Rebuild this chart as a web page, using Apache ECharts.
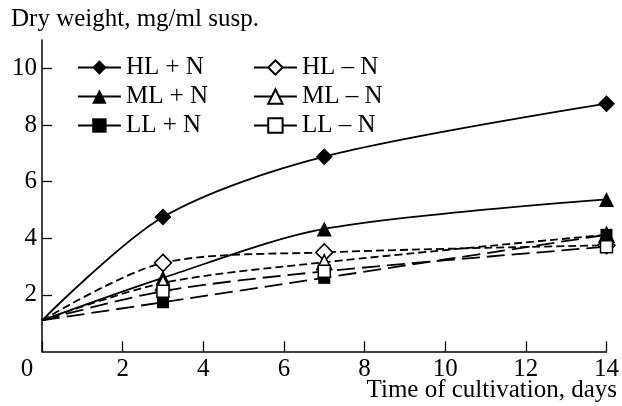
<!DOCTYPE html>
<html><head><meta charset="utf-8">
<script src="https://cdn.jsdelivr.net/npm/echarts@6/dist/echarts.min.js"></script>
<style>html,body{margin:0;padding:0;background:#fff}#c{width:622px;height:406px}</style>
</head><body><div id="c"></div>
<script>
var days = [0, 3, 7, 14];
var hlPlusN  = [1.1, 4.75, 6.88, 8.75];
var mlPlusN  = [1.1, 2.6, 4.33, 5.37];
var llPlusN  = [1.1, 1.74, 2.6, 4.12];
var hlMinusN = [1.1, 3.13, 3.5, 3.75];
var mlMinusN = [1.1, 2.42, 3.15, 4.12];
var llMinusN = [1.1, 2.13, 2.83, 3.7];
var xTicks = [0, 2, 4, 6, 8, 10, 12, 14];
var yTicks = [0, 2, 4, 6, 8, 10];
var names = ['HL + N', 'ML + N', 'LL + N', 'HL – N', 'ML – N', 'LL – N'];

var FONT = '"Liberation Serif", "Times New Roman", serif';
var FS = 25;
function pts(vals){ return days.map(function(d,i){ return {value:[d, vals[i]], symbol: i===0 ? 'none' : undefined}; }); }

function mk(name, vals, symbol, size, filled, dash){
  return {
    name: name, type: 'line', data: pts(vals), smooth: 0.3,
    symbol: symbol, symbolSize: size,
    itemStyle: {color: filled ? '#000' : '#fff', borderColor: '#000', borderWidth: filled ? 0 : 1.5, opacity: 1},
    lineStyle: {color: '#000', width: 1.8, type: dash},
    emphasis: {disabled: true}, animation: false
  };
}

var series = [
  mk(names[0], hlPlusN, 'diamond', 17, true, 'solid'),
  mk(names[1], mlPlusN, 'triangle', 15, true, 'solid'),
  mk(names[3], hlMinusN, 'diamond', 17, false, [8, 4]),
  mk(names[4], mlMinusN, 'triangle', 15, false, [8, 4]),
  mk(names[2], llPlusN, 'rect', 12, true, [18, 7]),
  mk(names[5], llMinusN, 'rect', 12, false, [18, 7])
];

function legend(left, data){
  return {
    left: left, top: 50, orient: 'vertical', data: data,
    itemWidth: 43, itemHeight: 18, itemGap: 4,
    lineStyle: {type: 'solid', width: 1.8, color: '#000'},
    textStyle: {fontFamily: FONT, fontSize: FS, color: '#000', lineHeight: 24.5},
    selectedMode: false
  };
}

var chart = echarts.init(document.getElementById('c'), null, {renderer: 'canvas'});
chart.setOption({
  animation: false,
  backgroundColor: '#fff',
  title: [
    {text: 'Dry weight, mg/ml susp.', left: 11, top: 7, padding: 0,
     textStyle: {fontFamily: FONT, fontSize: FS, fontWeight: 'normal', color: '#000'}},
    {text: 'Time of cultivation, days', right: 5, bottom: 3, padding: 0,
     textStyle: {fontFamily: FONT, fontSize: FS, fontWeight: 'normal', color: '#000'}}
  ],
  legend: [legend(72, names.slice(0,3)), legend(248, names.slice(3))],
  grid: {left: 42, right: 15, top: 40, bottom: 54.5, containLabel: false},
  xAxis: {
    type: 'value', min: 0, max: 14, interval: 2,
    axisLine: {lineStyle: {color: '#000', width: 1.5}},
    axisTick: {inside: true, length: 10, lineStyle: {color: '#000', width: 1.3}, customValues: xTicks},
    axisLabel: {
      customValues: xTicks, margin: 5, color: '#000', fontFamily: FONT, fontSize: FS,
      formatter: function(v){ return v === 0 ? '{z|0}' : String(v); },
      rich: {z: {fontFamily: FONT, fontSize: FS, color: '#000', padding: [0, 30, 0, 0]}}
    },
    splitLine: {show: false}
  },
  yAxis: {
    type: 'value', min: 0, max: 11, interval: 2,
    axisLine: {show: true, lineStyle: {color: '#000', width: 1.5}},
    axisTick: {show: true, inside: true, length: 10, lineStyle: {color: '#000', width: 1.3}, customValues: yTicks.slice(1)},
    axisLabel: {customValues: yTicks.slice(1), margin: 5, color: '#000', fontFamily: FONT, fontSize: FS},
    splitLine: {show: false}
  },
  series: series
});
</script></body></html>
